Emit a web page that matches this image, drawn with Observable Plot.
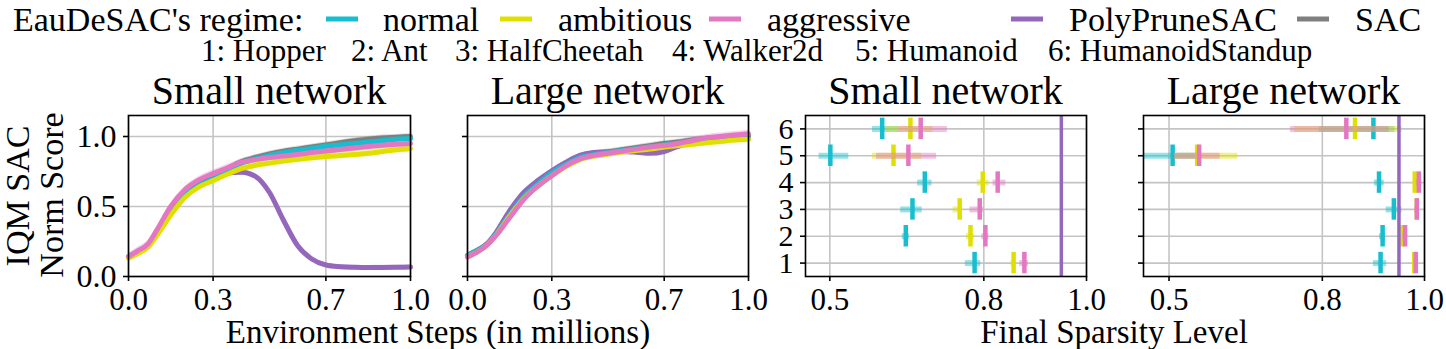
<!DOCTYPE html>
<html><head><meta charset="utf-8">
<script src="https://cdn.jsdelivr.net/npm/d3@7"></script>
<script src="https://cdn.jsdelivr.net/npm/@observablehq/plot@0.6"></script>
<style>
html,body{margin:0;padding:0;background:#fff;}
#fig{position:relative;width:1446px;height:349px;overflow:hidden;font-family:"Liberation Serif","Tinos","Times New Roman","Times","Nimbus Roman","DejaVu Serif",serif;background:#fff;}
#fig svg{position:absolute;overflow:visible;}
</style></head><body><div id="fig"></div>
<script>
// ---------- data ----------
const steps = [0, 0.03, 0.07, 0.1, 0.15, 0.2, 0.25, 0.3, 0.35, 0.4, 0.45, 0.5, 0.55, 0.6, 0.65, 0.7, 0.75, 0.8, 0.85, 0.9, 0.95, 1.0];
const seriesNames = ["SAC", "PolyPruneSAC", "normal", "ambitious", "aggressive"];
const seriesColors = ["#7f7f7f", "#9467bd", "#17becf", "#e0e000", "#e377c2"];
const bandHalfWidth = [0.02, 0.015, 0.02, 0.025, 0.025];

const smallSAC        = [0.14, 0.17, 0.22, 0.31, 0.47, 0.595, 0.665, 0.715, 0.77, 0.82, 0.85, 0.875, 0.895, 0.91, 0.925, 0.94, 0.955, 0.97, 0.98, 0.99, 0.995, 1.0];
const smallPoly       = [0.14, 0.17, 0.22, 0.31, 0.46, 0.58, 0.66, 0.71, 0.74, 0.745, 0.715, 0.60, 0.40, 0.22, 0.125, 0.082, 0.07, 0.066, 0.064, 0.065, 0.066, 0.067];
const smallNormal     = [0.14, 0.17, 0.22, 0.30, 0.45, 0.575, 0.65, 0.70, 0.76, 0.81, 0.84, 0.865, 0.885, 0.90, 0.915, 0.93, 0.94, 0.95, 0.96, 0.97, 0.98, 0.985];
const smallAmbitious  = [0.13, 0.16, 0.21, 0.29, 0.44, 0.565, 0.64, 0.685, 0.73, 0.77, 0.795, 0.81, 0.825, 0.838, 0.848, 0.857, 0.865, 0.872, 0.88, 0.893, 0.905, 0.915];
const smallAggressive = [0.143, 0.18, 0.235, 0.33, 0.50, 0.62, 0.69, 0.735, 0.775, 0.815, 0.835, 0.85, 0.86, 0.872, 0.885, 0.897, 0.907, 0.918, 0.928, 0.937, 0.944, 0.95];

const largeSAC        = [0.15, 0.18, 0.23, 0.30, 0.45, 0.58, 0.67, 0.75, 0.81, 0.855, 0.875, 0.89, 0.905, 0.92, 0.935, 0.95, 0.96, 0.975, 0.985, 0.995, 1.0, 1.0];
const largePoly       = [0.15, 0.18, 0.235, 0.31, 0.47, 0.60, 0.685, 0.755, 0.815, 0.865, 0.885, 0.89, 0.893, 0.888, 0.88, 0.893, 0.93, 0.96, 0.985, 0.995, 1.0, 1.01];
const largeNormal     = [0.15, 0.18, 0.23, 0.30, 0.44, 0.57, 0.66, 0.74, 0.80, 0.85, 0.87, 0.885, 0.90, 0.912, 0.925, 0.94, 0.95, 0.962, 0.972, 0.98, 0.985, 0.985];
const largeAmbitious  = [0.14, 0.17, 0.225, 0.29, 0.43, 0.555, 0.645, 0.72, 0.785, 0.835, 0.86, 0.875, 0.89, 0.90, 0.91, 0.925, 0.935, 0.945, 0.955, 0.965, 0.975, 0.98];
const largeAggressive = [0.14, 0.17, 0.225, 0.29, 0.42, 0.55, 0.645, 0.72, 0.79, 0.84, 0.865, 0.88, 0.895, 0.91, 0.925, 0.935, 0.95, 0.97, 0.99, 1.0, 1.01, 1.02];

const stepTicks = [0, 0.3, 0.7, 1.0];
const stepTickLabels = ["0.0", "0.3", "0.7", "1.0"];
const scoreTicks = [0, 0.5, 1.0];
const scoreTickLabels = ["0.0", "0.5", "1.0"];

const envs = [1, 2, 3, 4, 5, 6];
const envNames = ["Hopper", "Ant", "HalfCheetah", "Walker2d", "Humanoid", "HumanoidStandup"];
const regimeNames = ["normal", "ambitious", "aggressive"];
const regimeColors = ["#17becf", "#e0e000", "#e377c2"];

const smallNormalMean = [0.782, 0.648, 0.661, 0.685, 0.501, 0.602];
const smallNormalLo   = [0.764, 0.641, 0.638, 0.671, 0.479, 0.583];
const smallNormalHi   = [0.794, 0.655, 0.680, 0.699, 0.537, 0.634];
const smallAmbMean    = [0.858, 0.774, 0.753, 0.798, 0.624, 0.657];
const smallAmbLo      = [0.853, 0.766, 0.740, 0.787, 0.583, 0.609];
const smallAmbHi      = [0.862, 0.782, 0.758, 0.810, 0.679, 0.701];
const smallAggMean    = [0.879, 0.803, 0.792, 0.827, 0.653, 0.677];
const smallAggLo      = [0.870, 0.796, 0.773, 0.818, 0.591, 0.634];
const smallAggHi      = [0.887, 0.810, 0.800, 0.843, 0.708, 0.729];

const largeNormalMean = [0.914, 0.918, 0.940, 0.911, 0.507, 0.900];
const largeNormalLo   = [0.900, 0.912, 0.925, 0.902, 0.440, 0.794];
const largeNormalHi   = [0.926, 0.924, 0.956, 0.921, 0.560, 0.942];
const largeAmbMean    = [0.980, 0.957, 0.985, 0.981, 0.555, 0.864];
const largeAmbLo      = [0.977, 0.953, 0.981, 0.978, 0.511, 0.746];
const largeAmbHi      = [0.983, 0.961, 0.989, 0.986, 0.635, 0.957];
const largeAggMean    = [0.983, 0.962, 0.985, 0.989, 0.559, 0.847];
const largeAggLo      = [0.979, 0.957, 0.981, 0.984, 0.511, 0.7375];
const largeAggHi      = [0.987, 0.967, 0.989, 0.995, 0.600, 0.931];

const polySparsitySmall = [0.951];
const polySparsityLarge = [0.950];

const sparsityTicks = [0.5, 0.8, 1.0];
const sparsityTickLabels = ["0.5", "0.8", "1.0"];

// ---------- build tables ----------
function curveRows(arrays) {
  return arrays.flatMap((vals, s) => vals.map((v, i) => ({
    step: steps[i], value: v, lo: v - bandHalfWidth[s], hi: v + bandHalfWidth[s], series: seriesNames[s]
  })));
}
function sparsityRows(groups) {
  return groups.flatMap(([m, lo, hi], r) => envs.map((e, i) => ({
    env: e, mean: m[i], lo: lo[i], hi: hi[i], regime: regimeNames[r]
  })));
}
const smallCurves = curveRows([smallSAC, smallPoly, smallNormal, smallAmbitious, smallAggressive]);
const largeCurves = curveRows([largeSAC, largePoly, largeNormal, largeAmbitious, largeAggressive]);
const smallSparse = sparsityRows([[smallNormalMean, smallNormalLo, smallNormalHi], [smallAmbMean, smallAmbLo, smallAmbHi], [smallAggMean, smallAggLo, smallAggHi]]);
const largeSparse = sparsityRows([[largeNormalMean, largeNormalLo, largeNormalHi], [largeAmbMean, largeAmbLo, largeAmbHi], [largeAggMean, largeAggLo, largeAggHi]]);

const FONT = "'Liberation Serif', 'Tinos', 'Times New Roman', 'Times', 'Nimbus Roman', 'DejaVu Serif', serif";
const GRID = {stroke: "#c4c4c4", strokeOpacity: 1, strokeWidth: 1.6};
const fig = document.getElementById("fig");
const PANEL_TOP = 105, PANEL_H = 215, MT = 10, MB = 44;

function fmt(ticks, labels) { return d => labels[ticks.indexOf(d)] ?? ""; }

function panel({left, width, ml, mr, xDomain, yDomain, xTicks, xLabels, yTicks, yLabels, yFont, marks}) {
  const p = Plot.plot({
    width, height: PANEL_H,
    marginTop: MT, marginBottom: MB, marginLeft: ml, marginRight: mr,
    x: {domain: xDomain, label: null},
    y: {domain: yDomain, label: null},
    style: {fontFamily: FONT, fontSize: "31px", overflow: "visible", background: "transparent", maxWidth: "none"},
    marks: [
      Plot.gridX({ticks: xTicks, ...GRID}),
      Plot.gridY({ticks: yTicks, ...GRID}),
      ...marks,
      Plot.frame({stroke: "black", strokeWidth: 1.6}),
      Plot.axisX({ticks: xTicks, tickFormat: fmt(xTicks, xLabels), tickSize: 5, tickPadding: 6, strokeWidth: 1.6, fontSize: 31, label: null}),
      yLabels
        ? Plot.axisY({ticks: yTicks, tickFormat: fmt(yTicks, yLabels), tickSize: 5, tickPadding: 7, strokeWidth: 1.6, fontSize: yFont || 32, label: null})
        : Plot.axisY({ticks: yTicks, tickSize: 5, stroke: "black", fill: "none", strokeWidth: 1.6, label: null})
    ]
  });
  p.style.left = left + "px";
  p.style.top = PANEL_TOP + "px";
  fig.appendChild(p);
}

function curveMarks(rows) {
  const color = d => seriesColors[seriesNames.indexOf(d.series)];
  return [
    Plot.areaY(rows, {x: "step", y1: "lo", y2: "hi", z: "series", fill: color, fillOpacity: 0.3, curve: "monotone-x"}),
    Plot.lineY(rows, {x: "step", y: "value", z: "series", stroke: color, strokeWidth: 5, curve: "monotone-x"})
  ];
}
function sparseMarks(rows, poly) {
  const color = d => regimeColors[regimeNames.indexOf(d.regime)];
  const out = [];
  regimeNames.forEach(r => {
    const sub = rows.filter(d => d.regime === r);
    out.push(Plot.ruleY(sub, {y: "env", x1: "lo", x2: "hi", stroke: color, strokeWidth: 6, strokeOpacity: 0.45, clip: true}));
    out.push(Plot.ruleX(sub, {x: "mean", y1: d => d.env - 0.4, y2: d => d.env + 0.4, stroke: color, strokeWidth: 4.5}));
  });
  out.push(Plot.ruleX(poly, {x: d => d, stroke: "#9467bd", strokeWidth: 3.5}));
  return out;
}

panel({left: 0, width: 420, ml: 128, mr: 10, xDomain: [0, 1], yDomain: [0, 1.15],
  xTicks: stepTicks, xLabels: stepTickLabels, yTicks: scoreTicks, yLabels: scoreTickLabels,
  marks: curveMarks(smallCurves)});
panel({left: 420, width: 350, ml: 47, mr: 22, xDomain: [0, 1], yDomain: [0, 1.15],
  xTicks: stepTicks, xLabels: stepTickLabels, yTicks: scoreTicks, yLabels: null,
  marks: curveMarks(largeCurves)});
panel({left: 780, width: 330, ml: 25, mr: 24, xDomain: [0.4526, 1.0], yDomain: [0.5, 6.5],
  xTicks: sparsityTicks, xLabels: sparsityTickLabels, yTicks: envs, yLabels: envs.map(String), yFont: 30,
  marks: sparseMarks(smallSparse, polySparsitySmall)});
panel({left: 1110, width: 336, ml: 33, mr: 22, xDomain: [0.45, 1.0], yDomain: [0.5, 6.5],
  xTicks: sparsityTicks, xLabels: sparsityTickLabels, yTicks: envs, yLabels: null,
  marks: sparseMarks(largeSparse, polySparsityLarge)});

// ---------- overlay text: legend, titles, axis labels ----------
const ov = d3.select(fig).append("svg")
  .attr("width", 1446).attr("height", 349)
  .style("left", "0px").style("top", "0px")
  .attr("font-family", FONT).attr("fill", "black");

const row1 = [
  {text: "EauDeSAC's regime:", x: 13},
  {dash: regimeColors[0], x: 326}, {text: regimeNames[0], x: 383},
  {dash: regimeColors[1], x: 500}, {text: regimeNames[1], x: 558},
  {dash: regimeColors[2], x: 709}, {text: regimeNames[2], x: 767},
  {dash: seriesColors[1], x: 1011}, {text: seriesNames[1], x: 1069},
  {dash: seriesColors[0], x: 1297}, {text: seriesNames[0], x: 1355}
];
row1.forEach(it => {
  if (it.text) ov.append("text").attr("x", it.x).attr("y", 30.5).attr("font-size", 34).text(it.text);
  else ov.append("line").attr("x1", it.x).attr("x2", it.x + 32).attr("y1", 19).attr("y2", 19)
    .attr("stroke", it.dash).attr("stroke-width", 5);
});
const row2x = [201, 351, 455, 672, 855, 1048];
envs.forEach((e, i) => ov.append("text").attr("x", row2x[i]).attr("y", 61).attr("font-size", 31).text(`${e}: ${envNames[i]}`));

const titles = ["Small network", "Large network", "Small network", "Large network"];
const titleX = [269, 607.5, 945.5, 1283.5];
titles.forEach((t, i) => ov.append("text").attr("x", titleX[i]).attr("y", 104).attr("text-anchor", "middle").attr("font-size", 40).text(t));

ov.append("text").attr("transform", "translate(29,196) rotate(-90)").attr("text-anchor", "middle").attr("font-size", 34).text("IQM SAC");
ov.append("text").attr("transform", "translate(63,195) rotate(-90)").attr("text-anchor", "middle").attr("font-size", 34).text("Norm Score");
ov.append("text").attr("x", 438).attr("y", 343).attr("text-anchor", "middle").attr("font-size", 33).text("Environment Steps (in millions)");
ov.append("text").attr("x", 1114).attr("y", 343).attr("text-anchor", "middle").attr("font-size", 33).text("Final Sparsity Level");
</script></body></html>
